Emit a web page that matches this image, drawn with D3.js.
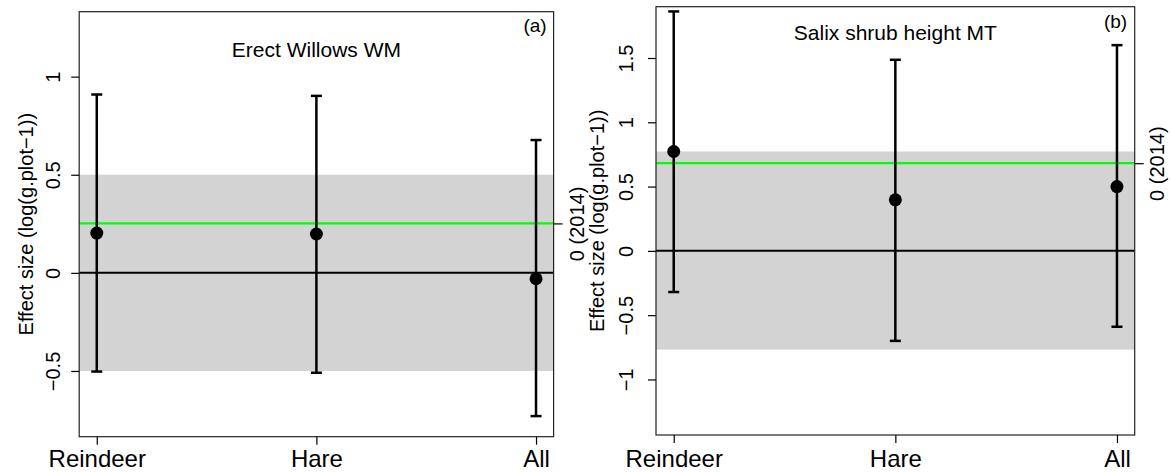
<!DOCTYPE html>
<html>
<head>
<meta charset="utf-8">
<script src="https://cdn.jsdelivr.net/npm/d3@7/dist/d3.min.js"></script>
<style>
  body { margin: 0; background: #fff; }
  svg { display: block; font-family: "Liberation Sans", Arial, Helvetica, sans-serif; }
</style>
</head>
<body>
<div id="chart"></div>
<script>
// categories on the x axis
var categories = ["Reindeer", "Hare", "All"];

// panel (a) Erect Willows WM
var meanA = [0.203, 0.198, -0.030];
var upperA = [0.909, 0.902, 0.677];
var lowerA = [-0.503, -0.509, -0.730];
var refA = 0.252;            // green line, "0 (2014)"
var bandA = [-0.5, 0.5];     // grey band
var ticksA = [-0.5, 0, 0.5, 1];

// panel (b) Salix shrub height MT
var meanB = [0.773, 0.397, 0.500];
var upperB = [1.862, 1.486, 1.600];
var lowerB = [-0.320, -0.700, -0.590];
var refB = 0.682;
var bandB = [-0.768, 0.773];
var ticksB = [-1, -0.5, 0, 0.5, 1, 1.5];

var width = 1171;
var height = 472;

var svg = d3.select("#chart").append("svg")
    .attr("width", width)
    .attr("height", height);

var fmt = function (v) { return v < 0 ? "\u2212" + Math.abs(v) : String(v); };

function panel(o) {
    var x = d3.scalePoint()
        .domain(categories)
        .range([o.left, o.right])
        .padding(0.08);

    var y = d3.scaleLinear()
        .domain(o.ydomain)
        .range([o.bottom, o.top]);

    var g = svg.append("g");

    /* grey band */
    g.append("rect")
        .attr("x", o.left)
        .attr("width", o.right - o.left)
        .attr("y", y(o.band[1]))
        .attr("height", y(o.band[0]) - y(o.band[1]))
        .attr("fill", "#d3d3d3");

    /* green reference and zero line */
    g.append("line")
        .attr("x1", o.left).attr("x2", o.right)
        .attr("y1", y(o.ref)).attr("y2", y(o.ref))
        .attr("stroke", "#00ff00")
        .attr("stroke-width", 2.2);

    g.append("line")
        .attr("x1", o.left).attr("x2", o.right)
        .attr("y1", y(0)).attr("y2", y(0))
        .attr("stroke", "#000")
        .attr("stroke-width", 2);

    /* error bars */
    var rows = categories.map(function (c, i) {
        return { cat: c, mean: o.mean[i], lo: o.lower[i], hi: o.upper[i] };
    });

    var bars = g.selectAll(".bar").data(rows).enter().append("g").attr("class", "bar");

    bars.append("line")
        .attr("x1", d => x(d.cat)).attr("x2", d => x(d.cat))
        .attr("y1", d => y(d.hi)).attr("y2", d => y(d.lo))
        .attr("stroke", "#000").attr("stroke-width", 2.5);

    ["hi", "lo"].forEach(function (k) {
        bars.append("line")
            .attr("x1", d => x(d.cat) - 5.5).attr("x2", d => x(d.cat) + 5.5)
            .attr("y1", d => y(d[k])).attr("y2", d => y(d[k]))
            .attr("stroke", "#000").attr("stroke-width", 2.5);
    });

    bars.append("circle")
        .attr("cx", d => x(d.cat))
        .attr("cy", d => y(d.mean))
        .attr("r", 6.5)
        .attr("fill", "#000");

    /* box */
    g.append("rect")
        .attr("x", o.left).attr("y", o.top)
        .attr("width", o.right - o.left).attr("height", o.bottom - o.top)
        .attr("fill", "none")
        .attr("stroke", "#222")
        .attr("stroke-width", 1.2);

    /* axes */
    var yAxis = d3.axisLeft(y).tickValues(o.ticks).tickFormat(fmt).tickSize(8).tickSizeOuter(0);
    var ya = g.append("g")
        .attr("transform", `translate(${o.left},0)`)
        .call(yAxis);
    ya.select(".domain").remove();
    ya.selectAll("line").attr("stroke", "#000").attr("stroke-width", 1.2);
    ya.selectAll("text")
        .attr("x", null).attr("dy", null)
        .attr("transform", `translate(${o.labelOff},0) rotate(-90)`)
        .attr("text-anchor", "middle")
        .attr("font-size", 20)
        .attr("font-family", null)
        .attr("fill", "#000");

    var rAxis = d3.axisRight(y).tickValues([o.ref]).tickFormat(() => "0 (2014)").tickSize(9).tickSizeOuter(0);
    var ra = g.append("g")
        .attr("transform", `translate(${o.right},0)`)
        .call(rAxis);
    ra.select(".domain").remove();
    ra.selectAll("line").attr("stroke", "#000").attr("stroke-width", 1.2);
    ra.selectAll("text")
        .attr("x", null).attr("dy", null)
        .attr("transform", `translate(${o.rightOff},0) rotate(-90)`)
        .attr("text-anchor", "middle")
        .attr("font-size", 20)
        .attr("font-family", null)
        .attr("fill", "#000");

    var xAxis = d3.axisBottom(x).tickSize(8).tickSizeOuter(0);
    var xa = g.append("g")
        .attr("transform", `translate(0,${o.bottom})`)
        .call(xAxis);
    xa.select(".domain").remove();
    xa.selectAll("line").attr("stroke", "#000").attr("stroke-width", 1.2);
    xa.selectAll("text")
        .attr("y", o.xlabOff).attr("dy", null)
        .attr("font-size", 24)
        .attr("font-family", null)
        .attr("fill", "#000");

    /* y axis title */
    g.append("text")
        .attr("transform", `translate(${o.titleX},${(o.top + o.bottom) / 2}) rotate(-90)`)
        .attr("text-anchor", "middle")
        .attr("font-size", 20)
        .text("Effect size (log(g.plot\u22121))");

    /* main title and panel letter */
    g.append("text")
        .attr("x", (o.left + o.right) / 2)
        .attr("y", o.mainY)
        .attr("text-anchor", "middle")
        .attr("font-size", 21)
        .text(o.main);

    g.append("text")
        .attr("x", o.letterX)
        .attr("y", o.letterY)
        .attr("text-anchor", "middle")
        .attr("font-size", 19)
        .text(o.letter);
}

panel({
    left: 79.2, right: 553.6, top: 11.7, bottom: 436.7,
    ydomain: [-0.835, 1.331],
    mean: meanA, upper: upperA, lower: lowerA,
    ref: refA, band: bandA, ticks: ticksA,
    labelOff: -19, rightOff: 30, titleX: 33, xlabOff: 30,
    main: "Erect Willows WM", mainY: 57,
    letter: "(a)", letterX: 535, letterY: 32
});

panel({
    left: 656, right: 1134.7, top: 6.7, bottom: 435,
    ydomain: [-1.432, 1.899],
    mean: meanB, upper: upperB, lower: lowerB,
    ref: refB, band: bandB, ticks: ticksB,
    labelOff: -23, rightOff: 29, titleX: 604, xlabOff: 31.7,
    main: "Salix shrub height MT", mainY: 40,
    letter: "(b)", letterX: 1115.5, letterY: 28
});
</script>
</body>
</html>
